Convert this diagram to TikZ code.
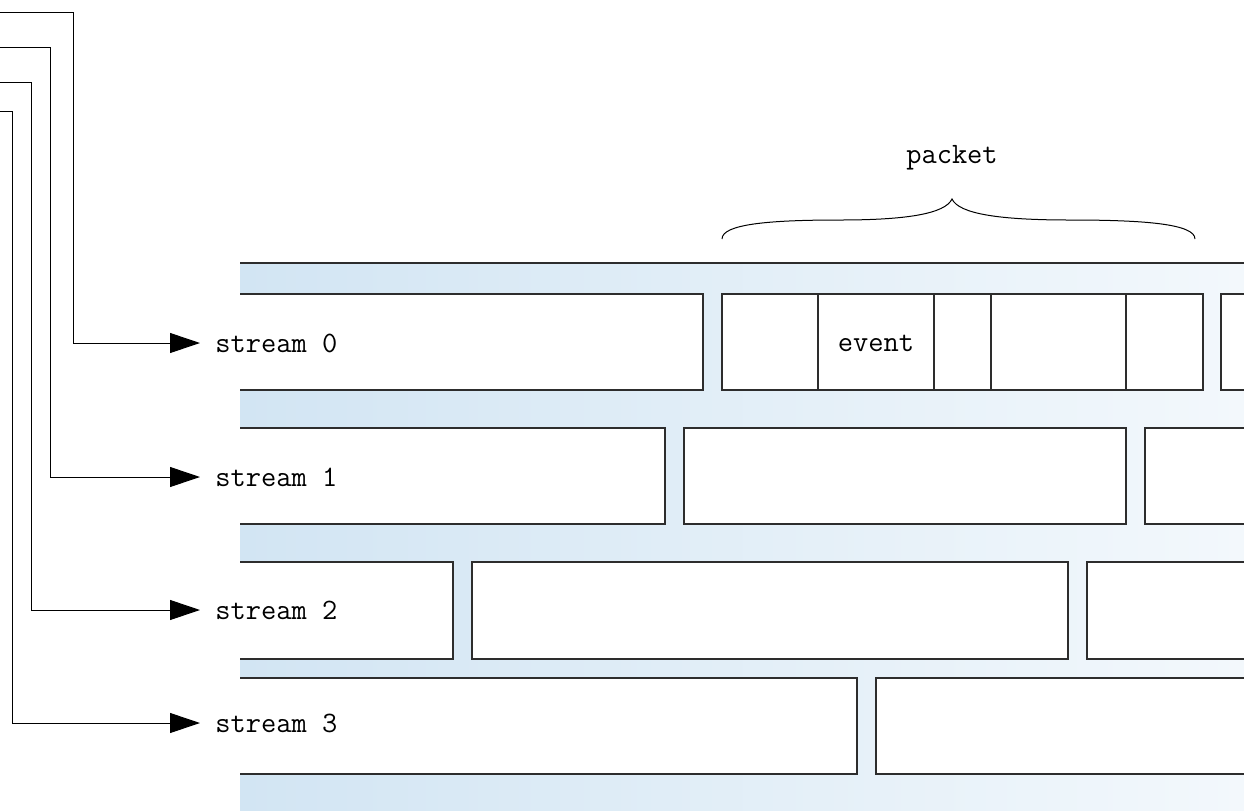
\documentclass[tikz,border=0pt]{standalone}
\usepackage{fontspec}
\usetikzlibrary{arrows.meta}
\definecolor{bandL}{RGB}{210,229,243}
\definecolor{bandR}{RGB}{243,248,252}
\definecolor{edge}{RGB}{45,45,45}
\begin{document}
\begin{tikzpicture}[x=0.5pt,y=-0.5pt,
  cell/.style={fill=white,draw=edge,line width=0.6pt},
  rim/.style={draw=edge,line width=0.6pt},
  conn/.style={draw=black,line width=0.5pt,-{Triangle[length=15pt,width=10pt]}},
  lbl/.style={anchor=west,inner xsep=7.5pt,inner ysep=0pt,font=\fontsize{14.8}{17}\selectfont\ttfamily},
  txt/.style={inner sep=0pt,font=\fontsize{14.8}{17}\selectfont\ttfamily}]
\useasboundingbox (0,0) rectangle (1244,810);

% shaded band behind the streams
\shade[left color=bandL,right color=bandR] (240,263) rectangle (1244,810);
\draw[rim] (240,263) -- (1244,263);

% stream 0 (top 294, bottom 390)
\fill[white] (240,294) rectangle (703,390);
\draw[rim] (240,294) -| (703,390) -- (240,390);
\draw[cell] (722,294) rectangle (1203,390);
\foreach \xx in {818,934,991,1126} \draw[rim] (\xx,294) -- (\xx,390);
\fill[white] (1221,294) rectangle (1244,390);
\draw[rim] (1244,294) -| (1221,390) -- (1244,390);

% stream 1 (top 428, bottom 524)
\fill[white] (240,428) rectangle (665,524);
\draw[rim] (240,428) -| (665,524) -- (240,524);
\draw[cell] (684,428) rectangle (1126,524);
\fill[white] (1145,428) rectangle (1244,524);
\draw[rim] (1244,428) -| (1145,524) -- (1244,524);

% stream 2 (top 562, bottom 659)
\fill[white] (240,562) rectangle (453,659);
\draw[rim] (240,562) -| (453,659) -- (240,659);
\draw[cell] (472,562) rectangle (1068,659);
\fill[white] (1087,562) rectangle (1244,659);
\draw[rim] (1244,562) -| (1087,659) -- (1244,659);

% stream 3 (top 678, bottom 774)
\fill[white] (240,678) rectangle (857,774);
\draw[rim] (240,678) -| (857,774) -- (240,774);
\fill[white] (876,678) rectangle (1244,774);
\draw[rim] (1244,678) -| (876,774) -- (1244,774);

% labels
\node[txt] (event) at (876,343) {event};
\node[txt] (packet) at (952,158) {packet};
\node[lbl] (s0) at (200,343) {stream 0};
\node[lbl] (s1) at (200,477) {stream 1};
\node[lbl] (s2) at (200,610) {stream 2};
\node[lbl] (s3) at (200,723) {stream 3};

% brace over the packet
\coordinate (bl) at (722,239);
\coordinate (bt) at (952,199);
\coordinate (br) at (1195,239);
\draw[line width=0.5pt] (bl) .. controls (722,224) and (770,220) .. (840,220)
  .. controls (905,220) and (945,214) .. (bt)
  .. controls (959,214) and (1000,220) .. (1070,220)
  .. controls (1145,220) and (1195,224) .. (br);

% feed lines into the streams
\coordinate (i0) at (0,12);  \coordinate (k0) at (73,343);
\coordinate (i1) at (0,47);  \coordinate (k1) at (50,477);
\coordinate (i2) at (0,82);  \coordinate (k2) at (31,610);
\coordinate (i3) at (0,111); \coordinate (k3) at (12,723);
\draw[conn] (i0) -| (k0) -- (s0.west);
\draw[conn] (i1) -| (k1) -- (s1.west);
\draw[conn] (i2) -| (k2) -- (s2.west);
\draw[conn] (i3) -| (k3) -- (s3.west);
\end{tikzpicture}
\end{document}
